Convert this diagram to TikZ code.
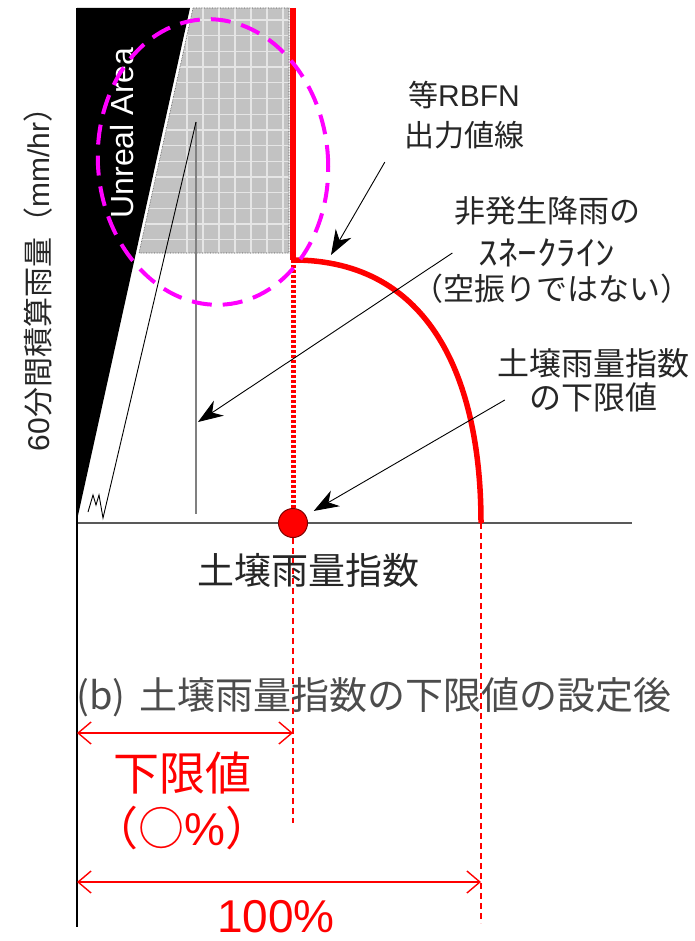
\documentclass[tikz,border=0pt]{standalone}
\usepackage{fontspec}
\setmainfont{Noto Sans CJK JP}
\newfontfamily\arial{Liberation Sans}
\usepackage{graphicx}
\usetikzlibrary{arrows.meta,positioning,calc}
\definecolor{ring}{RGB}{255,0,255}

\begin{document}
\begin{tikzpicture}[
    x=1pt, y=-1pt,
    node distance=40pt,
    label_jp/.style={inner sep=0pt, text=black!85, align=center},
    label_red/.style={inner sep=0pt, text=red},
    callout/.style={-{Stealth[length=25pt, width=18pt, inset=8pt]}, line width=0.9pt},
    dim_arrow/.style={{Straight Barb[length=13pt, width=22pt]}-{Straight Barb[length=13pt, width=22pt]}, red, line width=1.4pt},
    guide/.style={red, line width=1.4pt, dash pattern=on 6pt off 4pt},
    rbfn_line/.style={red, line width=5.5pt},
    grid_line/.style={gray!20, line width=1.3pt}
]

\useasboundingbox (0,0) rectangle (694,941);

% 座標
\coordinate (O) at (77,523);
\coordinate (axis_top) at (77,8);
\coordinate (axis_bot) at (77,927);
\coordinate (axis_end) at (632,523);
\coordinate (kink) at (293,260);
\coordinate (full) at (481,523);
\coordinate (lim_bot) at (293,823);
\coordinate (full_bot) at (481,923);

% Unreal Area
\fill[black] (axis_top) -- (190,8) -- (77,520) -- cycle;
\node[rotate=90, text=white, inner sep=0pt, font=\arial\fontsize{32}{32}\selectfont] (unreal) at (122,133) {Unreal Area};

% 格子の領域
\begin{scope}
  \clip (193,8) -- (289,8) -- (289,253) -- (139,253) -- cycle;
  \fill[gray!48] (130,0) rectangle (300,260);
  \foreach \gx in {187,203,...,283}
    \draw[grid_line] (\gx,0) -- (\gx,260);
  \foreach \i in {0,...,16}
    \draw[grid_line] (130,{4.3+15.7*\i}) -- (300,{4.3+15.7*\i});
\end{scope}
\draw[black!70, densely dotted, line width=0.6pt] (193,8) -- (289,8) -- (289,253) -- (139,253) -- cycle;

% スネークライン
\coordinate (snake_top) at (196,122);
\coordinate (snake_bot) at (196,514);
\coordinate (snake_tip) at (198,422);
\draw[gray, line width=1.5pt] (snake_top) -- (snake_bot);
\draw[black, line width=0.9pt] (snake_top) -- (103,518) -- (99,495) -- (96,505) -- (93,495) -- (88,512);

% 軸
\draw[black!65, line width=2pt] (O) -- (axis_end);
\draw[black, line width=2pt] (axis_top) -- (axis_bot);

% 等RBFN出力値線
\draw[rbfn_line] (293,8) -- (kink);
\draw[rbfn_line] (kink) .. controls +(138,0) and +(0,-143) .. (full);
\draw[red, line width=5pt, dash pattern=on 3pt off 2pt] (kink) -- (O -| kink);
\node[circle, fill=red, draw=red!50!black, line width=1pt, minimum size=29pt, inner sep=0pt] (lower_pt) at (293,523) {};

% 補助線
\draw[guide] (lower_pt.south) -- (lim_bot);
\draw[guide] (full) -- (full_bot);

% 対象範囲
\draw[ring, line width=4pt, dash pattern=on 20pt off 11pt, rotate around={5:(213,162)}] (213,162) ellipse [x radius=115, y radius=143];

% ラベル
\node[label_jp, font=\fontsize{30}{40}\selectfont] (rbfn_lbl) at (464,115) {等{\arial RBFN}\\出力値線};
\node[label_jp, font=\fontsize{31}{31}\selectfont] (snake_a) at (547,211) {非発生降雨の};
\node[label_jp, font=\fontsize{34}{34}\selectfont, below of=snake_a, node distance=42pt] (snake_b) {\scalebox{1.15}[1]{ｽﾈｰｸﾗｲﾝ}};
\node[label_jp, font=\fontsize{31}{31}\selectfont, below of=snake_b, node distance=36pt, xshift=5pt] (snake_c) {（空振りではない）};
\node[label_jp, font=\fontsize{32}{32}\selectfont] (lim_a) at (593,363) {土壌雨量指数};
\node[label_jp, font=\fontsize{32}{32}\selectfont, below of=lim_a, node distance=34pt] (lim_b) {の下限値};

\node[label_jp, font=\fontsize{37}{37}\selectfont] (x_lbl) at (308,570) {土壌雨量指数};
\node[label_jp, rotate=90, font=\fontsize{30}{30}\selectfont] (y_lbl) at (38,272) {{\arial 60}分間積算雨量（{\arial mm/hr}）};
\node[label_jp, text=black!70, font=\fontsize{38}{38}\selectfont] (caption) at (374,697) {(b)\hspace{14pt}土壌雨量指数の下限値の設定後};

% 引出線
\draw[callout] ([xshift=-19pt, yshift=-13pt]rbfn_lbl.south west) -- ($(kink)+(38,-5)$) coordinate (rbfn_tip);
\draw[callout] ([xshift=-26pt]snake_b.west) -- (snake_tip);
\draw[callout, shorten >=9pt] ([xshift=-24pt, yshift=-3pt]lim_b.west) -- (lower_pt);

% 寸法
\coordinate (dim_lim) at (77,733);
\coordinate (dim_full) at (77,882);
\draw[dim_arrow] (dim_lim) -- (dim_lim -| lower_pt);
\draw[dim_arrow] (dim_full) -- (dim_full -| full);
\node[label_red, font=\fontsize{46}{46}\selectfont] (lim_val) at (182,773) {下限値};
\node[label_red, font=\fontsize{46}{46}\selectfont, below of=lim_val, node distance=55pt] (lim_pct) {（○{\arial\%}）};
\node[label_red, font=\arial\fontsize{46}{46}\selectfont] (full_val) at (276,917) {100\%};

\end{tikzpicture}
\end{document}
